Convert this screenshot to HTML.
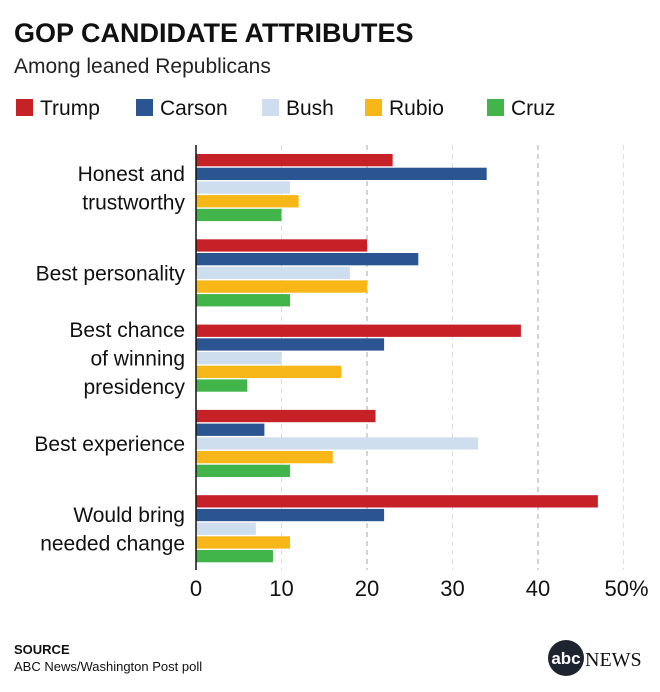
<!DOCTYPE html>
<html><head><meta charset="utf-8"><style>
body{margin:0;background:#fff;font-family:"Liberation Sans",sans-serif;}
#c{position:relative;width:660px;height:692px;overflow:hidden;}
</style></head><body>
<div id="c">
<svg width="660" height="692" xmlns="http://www.w3.org/2000/svg" id="svg">
<text x="14" y="42" font-size="27" font-weight="bold" fill="#111">GOP CANDIDATE ATTRIBUTES</text>
<text x="14" y="73" font-size="21" fill="#222">Among leaned Republicans</text>
<g id="legend"></g>
<g id="grid"></g>
<g id="bars"></g>
<g id="labels"></g>
<line x1="196" y1="145" x2="196" y2="570" stroke="#111" stroke-width="1.5"/>
<g id="ticks"></g>
<text x="14" y="654" font-size="13" font-weight="bold" fill="#111">SOURCE</text>
<text x="14" y="671" font-size="13" fill="#111">ABC News/Washington Post poll</text>
<g>
<circle cx="566" cy="658" r="18" fill="#1c2430"/>
<text x="566" y="664" font-size="17" font-weight="bold" fill="#fff" text-anchor="middle">abc</text>
<text x="585" y="666" font-size="20" font-family="Liberation Serif, serif" fill="#111">NEWS</text>
</g>
</svg>
</div>
<script>
const categories=[["Honest and","trustworthy"],["Best personality"],["Best chance","of winning","presidency"],["Best experience"],["Would bring","needed change"]];
const seriesNames=["Trump","Carson","Bush","Rubio","Cruz"];
const trump=[23,20,38,21,47];
const carson=[34,26,22,8,22];
const bush=[11,18,10,33,7];
const rubio=[12,20,17,16,11];
const cruz=[10,11,6,11,9];
const tickValues=[0,10,20,30,40,50];
const tickLabels=["0","10","20","30","40","50%"];
const colors=["#c62127","#2b5590","#cfdeee","#f7b718","#41b54a"];
const series=[trump,carson,bush,rubio,cruz];
const NS="http://www.w3.org/2000/svg";
const x0=196,pxPer=8.55;
function xs(v){return x0+v*pxPer;}
function gy(i){return 154+i*85.3;}
function mk(t,a,p){const e=document.createElementNS(NS,t);for(const k in a)e.setAttribute(k,a[k]);if(p)p.appendChild(e);return e;}
const legend=document.getElementById('legend');
const lx=[16,136,262,365,487];
seriesNames.forEach((n,i)=>{
 const r=mk('rect',{x:lx[i],y:99,width:17,height:17,fill:colors[i]},legend);
 
 
 const t=mk('text',{x:lx[i]+24,y:115,'font-size':21,fill:'#111'},legend);t.textContent=n;
 
 
});
const grid=document.getElementById('grid'),ticks=document.getElementById('ticks');
tickValues.forEach((v,i)=>{
 if(v>0){const l=mk('line',{x1:xs(v),y1:145,x2:xs(v),y2:570,stroke:(v%20==0)?'#aaa':'#ddd','stroke-dasharray':'5,4'},grid);
 
 }
 const t=mk('text',{x:xs(v)+(i==5?3:0),y:596,'font-size':22,fill:'#111','text-anchor':'middle'},ticks);t.textContent=tickLabels[i];
 
 
});
const bars=document.getElementById('bars'),labels=document.getElementById('labels');
categories.forEach((c,ci)=>{
 series.forEach((s,si)=>{
  const r=mk('rect',{x:x0,y:gy(ci)+si*13.7,width:xs(s[ci])-x0,height:12.3,fill:colors[si]},bars);
  
  
 });
 const mid=gy(ci)+34,lh=28.5;
 const t=mk('text',{'font-size':21,fill:'#111','text-anchor':'end'},labels);
 
 
 c.forEach((line,li)=>{const ts=mk('tspan',{x:185,y:mid+7+(li-(c.length-1)/2)*lh},t);ts.textContent=line;});
});
</script>
</body></html>
